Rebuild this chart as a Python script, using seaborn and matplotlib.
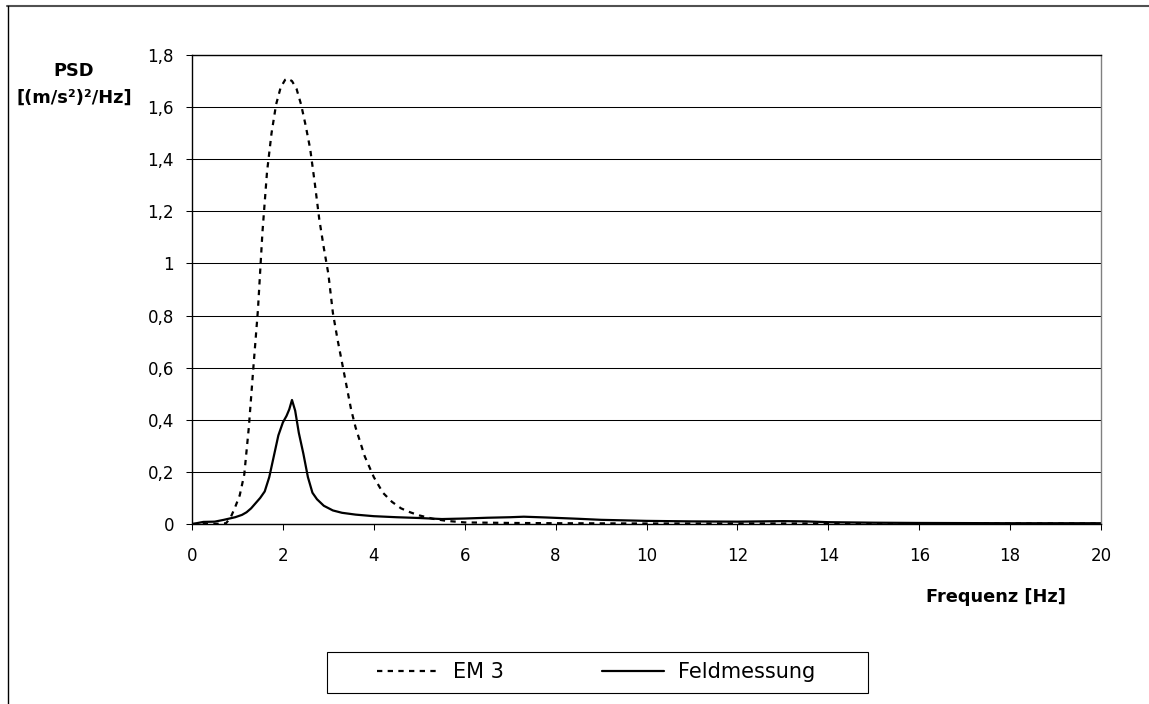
import matplotlib
matplotlib.use("Agg")
import matplotlib.pyplot as plt
import seaborn as sns
from matplotlib.lines import Line2D
from matplotlib.patches import Rectangle

# ---- data ----
freq_em3 = [0.0, 0.3, 0.6, 0.75, 0.85, 0.95, 1.05, 1.15, 1.25, 1.35, 1.45, 1.55,
            1.65, 1.75, 1.85, 1.95, 2.05, 2.1, 2.2, 2.3, 2.4, 2.5, 2.6, 2.7, 2.8,
            2.9, 3.0, 3.1, 3.2, 3.3, 3.4, 3.5, 3.6, 3.8, 4.0, 4.2, 4.4, 4.6, 4.8,
            5.0, 5.3, 5.6, 6.0, 7.0, 8.0, 10.0, 12.0, 14.0, 16.0, 18.0, 20.0]
psd_em3 = [0.0, 0.0, 0.001, 0.003, 0.025, 0.065, 0.11, 0.19, 0.37, 0.60, 0.82, 1.12,
           1.35, 1.50, 1.61, 1.675, 1.705, 1.71, 1.70, 1.67, 1.61, 1.53, 1.44, 1.31, 1.17,
           1.06, 0.96, 0.81, 0.71, 0.62, 0.53, 0.44, 0.37, 0.26, 0.18, 0.12, 0.085, 0.06, 0.045,
           0.033, 0.02, 0.012, 0.006, 0.004, 0.003, 0.002, 0.002, 0.002, 0.002, 0.002, 0.002]

freq_feld = [0.0, 0.1, 0.25, 0.5, 0.7, 0.95, 1.1, 1.2, 1.3, 1.4, 1.5, 1.6, 1.7, 1.8,
             1.9, 2.0, 2.08, 2.14, 2.2, 2.27, 2.35, 2.45, 2.55, 2.65, 2.75, 2.9, 3.1,
             3.3, 3.6, 4.0, 4.5, 5.0, 5.5, 6.0, 6.5, 7.0, 7.3, 7.8, 8.5, 9.0, 10.0,
             11.0, 12.0, 13.0, 13.5, 14.0, 15.0, 16.0, 18.0, 20.0]
psd_feld = [0.0, 0.003, 0.008, 0.009, 0.016, 0.026, 0.035, 0.045, 0.06, 0.08, 0.10,
            0.125, 0.18, 0.26, 0.34, 0.39, 0.415, 0.44, 0.476, 0.435, 0.35, 0.27, 0.18,
            0.12, 0.095, 0.07, 0.052, 0.043, 0.036, 0.030, 0.026, 0.023, 0.019, 0.021,
            0.024, 0.026, 0.028, 0.025, 0.020, 0.016, 0.012, 0.010, 0.009, 0.011, 0.010,
            0.007, 0.005, 0.004, 0.003, 0.003]

series_names = ["EM 3", "Feldmessung"]
x_ticks = [0, 2, 4, 6, 8, 10, 12, 14, 16, 18, 20]
y_ticks = [0, 0.2, 0.4, 0.6, 0.8, 1.0, 1.2, 1.4, 1.6, 1.8]
y_tick_labels = ["0", "0,2", "0,4", "0,6", "0,8", "1", "1,2", "1,4", "1,6", "1,8"]
x_label = "Frequenz [Hz]"
y_label = "PSD\n[(m/s²)²/Hz]"

# ---- style ----
sns.set_theme(style="white")
plt.rcParams["font.family"] = ["DejaVu Sans"]
plt.rcParams["text.color"] = "black"

W, H = 1149, 704
fig = plt.figure(figsize=(W / 100, H / 100), dpi=100)
fig.patch.set_facecolor("white")

ax = fig.add_axes([192 / W, 1 - 524 / H, (1101 - 192) / W, (524 - 55) / H])
ax.set_facecolor("white")

sns.lineplot(x=freq_em3, y=psd_em3, ax=ax, color="black", linewidth=1.6,
             legend=False, errorbar=None)
em3_line = ax.lines[-1]
em3_line.set_linestyle((0, (2.4, 2.4)))
sns.lineplot(x=freq_feld, y=psd_feld, ax=ax, color="black", linewidth=1.6,
             legend=False, errorbar=None)
feld_line = ax.lines[-1]

ax.set_xlim(0, 20)
ax.set_ylim(0, 1.8)
ax.set_xticks(x_ticks)
ax.set_xticklabels([str(v) for v in x_ticks])
ax.set_yticks(y_ticks)
ax.set_yticklabels(y_tick_labels)
ax.set_xlabel("")
ax.set_ylabel("")

ax.grid(axis="y", color="black", linewidth=0.75)
ax.grid(axis="x", visible=False)
ax.set_axisbelow(True)

for side in ["left", "bottom", "top"]:
    ax.spines[side].set_visible(True)
    ax.spines[side].set_color("black")
    ax.spines[side].set_linewidth(1.0)
ax.spines["right"].set_visible(True)
ax.spines["right"].set_color("#808080")
ax.spines["right"].set_linewidth(1.0)

ax.tick_params(axis="both", which="major", direction="out", length=4.3, width=0.75,
               color="black", labelsize=12, labelcolor="black")
ax.tick_params(axis="x", pad=12, bottom=True)
ax.tick_params(axis="y", pad=8.6, left=True)

# axis titles
fig.text(74 / W, 1 - 84.5 / H, y_label, ha="center", va="center",
         fontweight="bold", fontsize=12.8, linespacing=1.65,
         multialignment="center", color="black")
fig.text(1066 / W, 1 - 597 / H, x_label, ha="right", va="center",
         fontweight="bold", fontsize=12.8, color="black")

# legend
fig.legend([em3_line, feld_line], series_names, loc="center left",
           bbox_to_anchor=(377 / W, 1 - 672.5 / H), ncol=2, frameon=False,
           fontsize=15, handlelength=3.0, handletextpad=0.65, columnspacing=4.7,
           borderpad=0, borderaxespad=0, labelcolor="black")
fig.add_artist(Rectangle((327 / W, 1 - 693 / H), (868 - 327) / W, (693 - 652) / H,
                         transform=fig.transFigure, fill=False, edgecolor="black",
                         linewidth=0.8))

# outer chart frame (top and left visible)
fig.add_artist(Line2D([7 / W, 1.0], [1 - 6 / H, 1 - 6 / H], transform=fig.transFigure,
                      color="#505050", linewidth=1.5))
fig.add_artist(Line2D([7.5 / W, 7.5 / W], [0.0, 1 - 6 / H], transform=fig.transFigure,
                      color="black", linewidth=1.0))

fig.savefig("out.png", dpi=100, facecolor="white")
